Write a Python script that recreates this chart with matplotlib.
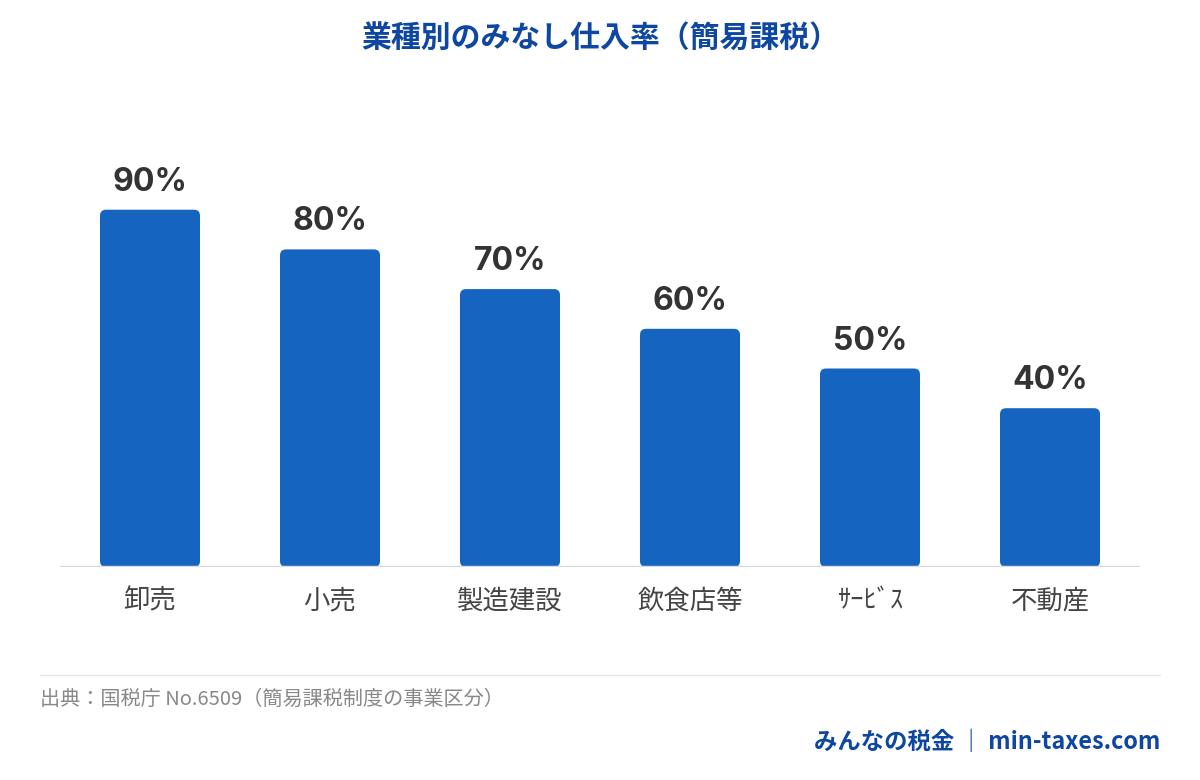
import matplotlib
matplotlib.use("Agg")
import matplotlib.pyplot as plt
from matplotlib.patches import FancyBboxPatch
from matplotlib.lines import Line2D

plt.rcParams['font.family'] = ['Noto Sans CJK JP', 'DejaVu Sans']

categories = ["卸売", "小売", "製造建設", "飲食店等", "ｻｰﾋﾞｽ", "不動産"]
values = [90, 80, 70, 60, 50, 40]
labels = ["90%", "80%", "70%", "60%", "50%", "40%"]

W, H = 1200, 780
fig = plt.figure(figsize=(12, 7.8), dpi=100)
fig.patch.set_facecolor("white")
ax = fig.add_axes([60 / W, 1 - 567 / H, 1080 / W, 397 / H])
ax.set_xlim(-0.5, 5.5)
ax.set_ylim(0, 100)
ax.axis("off")

bw = 100 / 180
px_x = 180.0
px_y = 3.97
for i, v in enumerate(values):
    p = FancyBboxPatch((i - bw / 2, 0), bw, v,
                       boxstyle="round,pad=0,rounding_size=%f" % (6 / px_x),
                       mutation_aspect=px_x / px_y,
                       facecolor="#1565C0", edgecolor="none", zorder=2)
    ax.add_patch(p)
    ax.text(i, v + 3.0, labels[i], ha="center", va="bottom", fontsize=23,
            fontweight="bold", color="#333333", family=["Inter", "DejaVu Sans"])
    ax.text(i, -5.2, categories[i], ha="center", va="top", fontsize=19, color="#444444")
ax.axhline(0, color="#d9d9d9", lw=2.5, zorder=3)

fig.text(0.5, 1 - 38 / H, "業種別のみなし仕入率（簡易課税）", ha="center", va="center",
         fontsize=21.5, fontweight="bold", color="#0D47A1")
fig.add_artist(Line2D([40 / W, 1160 / W], [1 - 675 / H] * 2, color="#e6e6e6", lw=1))
fig.text(40 / W, 1 - 699 / H, "出典：国税庁 No.6509（簡易課税制度の事業区分）", ha="left",
         va="center", fontsize=14.5, color="#888888")
fig.text(1160 / W, 1 - 742 / H, "みんなの税金 ｜ min-taxes.com", ha="right", va="center",
         fontsize=16.8, fontweight="bold", color="#0D47A1")

fig.savefig("out.png", dpi=100, facecolor="white")
